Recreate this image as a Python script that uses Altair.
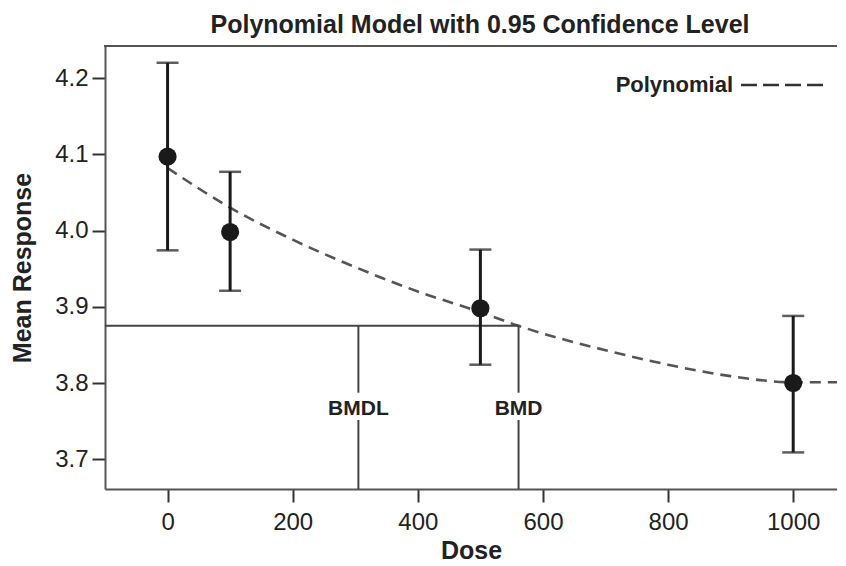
import altair as alt
import pandas as pd

# observed group data
dose = [0, 100, 500, 1000]
mean_resp = [4.097, 3.998, 3.898, 3.800]
lower_ci = [3.974, 3.921, 3.824, 3.709]
upper_ci = [4.220, 4.077, 3.975, 3.888]

# fitted polynomial curve
curve_dose = [0, 100, 200, 300, 400, 500, 561, 700, 800, 900, 1000, 1070]
curve_resp = [4.082, 4.030, 3.988, 3.952, 3.920, 3.893, 3.875, 3.843, 3.824, 3.809, 3.801, 3.801]

# benchmark values
bmd_label = ["BMDL", "BMD"]
bmd_dose = [305, 561]
bmr_level = 3.875

x_ticks = [0, 200, 400, 600, 800, 1000]
y_ticks = [3.7, 3.8, 3.9, 4.0, 4.1, 4.2]
x_domain = [-100, 1070]
y_domain = [3.661, 4.242]

title_text = ["Polynomial Model with 0.95 Confidence Level"]
legend_text = ["Polynomial"]

FONT = "Liberation Sans"
W, H = 732, 443

pts = pd.DataFrame({"dose": dose, "mean": mean_resp, "lo": lower_ci, "hi": upper_ci})
curve = pd.DataFrame({"dose": curve_dose, "resp": curve_resp})
bmd = pd.DataFrame({"label": bmd_label, "dose": bmd_dose})

xs = alt.Scale(domain=x_domain, nice=False, zero=False)
ys = alt.Scale(domain=y_domain, nice=False, zero=False)

xaxis = alt.Axis(values=x_ticks, title="Dose", format="d", labelPadding=8, titlePadding=4)
yaxis = alt.Axis(values=y_ticks, title="Mean Response", format=".1f", labelPadding=4, titlePadding=19)

base_curve = alt.Chart(curve).mark_line(
    color="#555555", strokeWidth=2.6, strokeDash=[11, 7], interpolate="monotone", clip=True
).encode(
    x=alt.X("dose:Q", scale=xs, axis=xaxis),
    y=alt.Y("resp:Q", scale=ys, axis=yaxis),
)

hline = alt.Chart(pd.DataFrame({"x0": [x_domain[0]], "x1": [bmd_dose[1]], "y": [bmr_level]})).mark_rule(
    color="#444444", strokeWidth=2
).encode(x="x0:Q", x2="x1:Q", y="y:Q")

vline_top = alt.Chart(bmd).mark_rule(color="#444444", strokeWidth=2).encode(
    x="dose:Q", y=alt.datum(bmr_level), y2=alt.datum(3.7873)
)
vline_bot = alt.Chart(bmd).mark_rule(color="#444444", strokeWidth=2).encode(
    x="dose:Q", y=alt.datum(3.7515), y2=alt.datum(y_domain[0])
)
bmd_text = alt.Chart(bmd).mark_text(
    font=FONT, fontSize=21, fontWeight="bold", color="#222222", baseline="alphabetic", align="center"
).encode(x="dose:Q", y=alt.datum(3.758), text="label:N")

err = alt.Chart(pts).mark_rule(color="#1a1a1a", strokeWidth=3).encode(
    x="dose:Q", y="lo:Q", y2="hi:Q"
)
cap_lo = alt.Chart(pts).mark_tick(color="#1a1a1a", thickness=2.5, size=22, orient="horizontal").encode(
    x="dose:Q", y="lo:Q"
)
cap_hi = alt.Chart(pts).mark_tick(color="#1a1a1a", thickness=2.5, size=22, orient="horizontal").encode(
    x="dose:Q", y="hi:Q"
)
dots = alt.Chart(pts).mark_point(filled=True, shape="circle", size=330, color="#1a1a1a", opacity=1).encode(
    x="dose:Q", y="mean:Q"
)

leg_text = alt.Chart(pd.DataFrame({"t": legend_text})).mark_text(
    font=FONT, fontSize=22, fontWeight="bold", color="#222222", align="right", baseline="alphabetic"
).encode(x=alt.value(628), y=alt.value(46), text="t:N")
leg_line = alt.Chart(pd.DataFrame({"a": [0]})).mark_rule(
    color="#333333", strokeWidth=2.6, strokeDash=[16, 6]
).encode(x=alt.value(636), x2=alt.value(718), y=alt.value(39))

title = alt.Chart(pd.DataFrame({"t": title_text})).mark_text(
    font=FONT, fontSize=25, fontWeight="bold", color="#222222", align="center", baseline="alphabetic"
).encode(x=alt.value(375), y=alt.value(-13), text="t:N")

top_frame = alt.Chart(pd.DataFrame({"a": [0]})).mark_rule(color="#555555", strokeWidth=2).encode(
    x=alt.value(-1), x2=alt.value(W), y=alt.value(0)
)

chart = alt.layer(
    base_curve, hline, vline_top, vline_bot, bmd_text, err, cap_lo, cap_hi, dots,
    leg_text, leg_line, title, top_frame
).properties(
    width=W,
    height=H,
    autosize=alt.AutoSizeParams(type="none"),
    padding={"left": 97, "top": 38, "right": 0, "bottom": 76},
).configure_view(stroke=None).configure_axis(
    grid=False,
    domainColor="#555555",
    domainWidth=2,
    tickColor="#333333",
    tickWidth=2,
    tickSize=13,
    labelFont=FONT,
    labelFontSize=24,
    labelColor="#222222",
    titleFont=FONT,
    titleFontSize=25,
    titleFontWeight="bold",
    titleColor="#222222",
)

chart.save("out.html", embed_options={"renderer": "svg", "actions": False})
